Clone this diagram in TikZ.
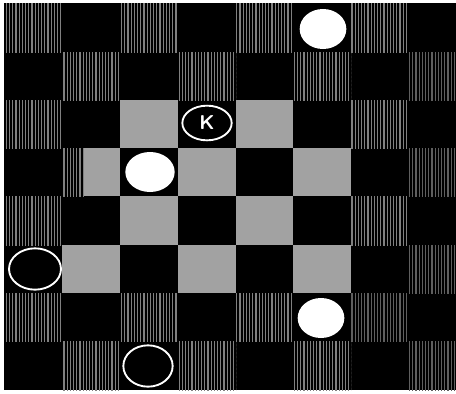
\documentclass[tikz,border=0pt]{standalone}
\usetikzlibrary{patterns,shapes.geometric}
\pgfdeclarepatternformonly{boardlines}{\pgfqpoint{-1pt}{-1pt}}{\pgfqpoint{2pt}{4pt}}{\pgfqpoint{2.4pt}{3pt}}{%
  \pgfsetlinewidth{0.9pt}\pgfpathmoveto{\pgfqpoint{0pt}{-0.5pt}}\pgfpathlineto{\pgfqpoint{0pt}{3.5pt}}\pgfusepath{stroke}}
\definecolor{stripegray}{RGB}{128,128,128}
\definecolor{stripedim}{RGB}{95,95,95}
\definecolor{paleboard}{RGB}{162,162,162}
\tikzset{
  darksq/.style={pattern=boardlines, pattern color=stripegray},
  dimsq/.style={pattern=boardlines, pattern color=stripedim},
  lightsq/.style={fill=paleboard},
  man/.style={ellipse, fill=white, inner sep=0pt, minimum width=35pt, minimum height=30pt},
  ring/.style={ellipse, draw=white, line width=1.4pt, fill=black, inner sep=0pt, minimum width=38pt, minimum height=30pt},
}
\begin{document}
\begin{tikzpicture}[x=0.75pt,y=0.75pt,yscale=-1,xscale=1]
        \useasboundingbox (0,0) rectangle (456,393);
        \fill[white] (0,0) rectangle (456,393);
        \fill[black] (4,3) rectangle (456,390);
        % row 1
        \fill[darksq] (4,3) rectangle (62,52);
        \fill[darksq] (120,3) rectangle (178,52);
        \fill[darksq] (236,3) rectangle (293,52);
        \fill[darksq] (351,3) rectangle (407,52);
        % row 2
        \fill[darksq] (62,52) rectangle (120,100);
        \fill[darksq] (178,52) rectangle (236,100);
        \fill[darksq] (293,52) rectangle (351,100);
        \fill[dimsq] (407,52) rectangle (456,100);
        % row 3
        \fill[darksq] (4,100) rectangle (62,148);
        \fill[lightsq] (120,100) rectangle (178,148);
        \fill[lightsq] (236,100) rectangle (293,148);
        \fill[darksq] (351,100) rectangle (407,148);
        % row 4
        \fill[darksq] (62,148) rectangle (84,196);
        \fill[lightsq] (84,148) rectangle (120,196);
        \fill[lightsq] (178,148) rectangle (236,196);
        \fill[lightsq] (293,148) rectangle (351,196);
        \fill[dimsq] (407,148) rectangle (456,196);
        % row 5
        \fill[darksq] (4,196) rectangle (62,245);
        \fill[lightsq] (120,196) rectangle (178,245);
        \fill[lightsq] (236,196) rectangle (293,245);
        \fill[darksq] (351,196) rectangle (407,245);
        % row 6
        \fill[lightsq] (62,245) rectangle (120,293);
        \fill[lightsq] (178,245) rectangle (236,293);
        \fill[lightsq] (293,245) rectangle (351,293);
        \fill[dimsq] (407,245) rectangle (456,293);
        % row 7
        \fill[darksq] (4,293) rectangle (62,341);
        \fill[darksq] (120,293) rectangle (178,341);
        \fill[darksq] (236,293) rectangle (293,341);
        \fill[dimsq] (351,293) rectangle (407,341);
        % row 8
        \fill[darksq] (62,341) rectangle (120,390);
        \fill[darksq] (178,341) rectangle (236,390);
        \fill[darksq] (293,341) rectangle (351,390);
        \fill[dimsq] (407,341) rectangle (456,390);
        % pieces
        \node[man] (topman) at (323,29) {};
        \node[man, minimum width=37pt] (midman) at (150,172) {};
        \node[man] (lowman) at (321,318) {};
        \node[ring, minimum width=37pt, minimum height=26pt, text=white, font=\sffamily\bfseries\fontsize{15}{15}\selectfont] (king) at (207,123) {K};
        \node[ring, minimum width=39pt, minimum height=31pt] (leftring) at (35,269) {};
        \node[ring, minimum width=37pt, minimum height=31pt] (lowring) at (148,366) {};
    \end{tikzpicture}
\end{document}
